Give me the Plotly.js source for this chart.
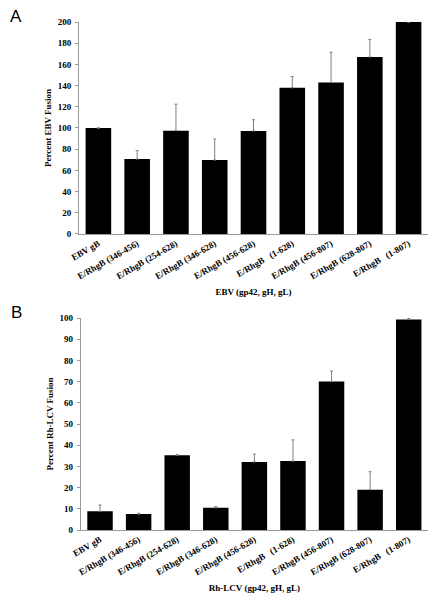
<!DOCTYPE html>
<html>
<head>
<meta charset="utf-8">
<script src="https://cdn.plot.ly/plotly-3.0.1.min.js"></script>
<style>html,body{margin:0;padding:0;background:#fff;}#chart{width:440px;height:599px;}</style>
</head>
<body>
<div id="chart"></div>
<script>
var NB = '\u00a0';
var categories = ['EBV gB', 'E/RhgB (346-456)', 'E/RhgB (254-628)', 'E/RhgB (346-628)', 'E/RhgB (456-628)',
  'E/RhgB' + NB + NB + NB + '(1-628)', 'E/RhgB (456-807)', 'E/RhgB (628-807)', 'E/RhgB' + NB + NB + NB + '(1-807)'];

// Panel A: EBV (gp42, gH, gL)
var ebvValues = [100, 70.7, 97.5, 69.8, 97.2, 138, 143, 167, 200];
var ebvErrTop = [100, 78.6, 122.5, 89.6, 107.8, 148.5, 171.5, 183.5, 200];

// Panel B: Rh-LCV (gp42, gH, gL)
var rhValues = [8.8, 7.5, 35.3, 10.5, 32.1, 32.5, 70, 19, 99.3];
var rhErrTop = [11.8, 7.9, 35.5, 11, 35.8, 42.5, 75, 27.5, 99.8];

var yTicksA = [0, 20, 40, 60, 80, 100, 120, 140, 160, 180, 200];
var yTicksB = [0, 10, 20, 30, 40, 50, 60, 70, 80, 90, 100];

function diff(top, v) { return top.map(function (t, i) { return Math.max(0, t - v[i]); }); }

var serif = 'Liberation Serif, Times New Roman, serif';
var tickFont = {family: serif, size: 9, color: '#000', weight: 'bold'};
var titleFont = {family: serif, size: 9, color: '#000', weight: 'bold'};

var errStyle = {type: 'data', symmetric: false, color: '#808080', thickness: 1, width: 1.5, visible: true};

var traces = [
  {type: 'bar', x: categories, y: ebvValues, xaxis: 'x', yaxis: 'y', marker: {color: '#000'},
   error_y: Object.assign({array: diff(ebvErrTop, ebvValues), arrayminus: ebvValues.map(function(){return 0;})}, errStyle),
   hoverinfo: 'skip'},
  {type: 'bar', x: categories, y: rhValues, xaxis: 'x2', yaxis: 'y2', marker: {color: '#000'},
   error_y: Object.assign({array: diff(rhErrTop, rhValues), arrayminus: rhValues.map(function(){return 0;})}, errStyle),
   hoverinfo: 'skip'}
];

var xCommon = {
  tickangle: -30, tickfont: tickFont, showline: true, linecolor: '#999', linewidth: 1,
  ticks: '', showgrid: false, zeroline: false, automargin: false
};
var yCommon = {
  tickfont: tickFont, showline: true, linecolor: '#999', linewidth: 1, ticks: 'outside',
  ticklen: 3, tickcolor: '#999', showgrid: false, zeroline: false, automargin: false, ticklabelstandoff: 2
};

var layout = {
  width: 440, height: 599,
  margin: {l: 79, r: 12, t: 22, b: 69},
  paper_bgcolor: '#fff', plot_bgcolor: '#fff',
  showlegend: false, bargap: 0.34,
  xaxis: Object.assign({}, xCommon, {domain: [0, 1], anchor: 'y',
    title: {text: 'EBV (gp42, gH, gL)', font: titleFont, standoff: 8}}),
  yaxis: Object.assign({}, yCommon, {domain: [0.5827, 1], anchor: 'x', range: [0, 200],
    tickvals: yTicksA, title: {text: 'Percent EBV Fusion', font: titleFont, standoff: 4}}),
  xaxis2: Object.assign({}, xCommon, {domain: [0.005, 1.005], anchor: 'y2',
    title: {text: 'Rh-LCV (gp42, gH, gL)', font: titleFont, standoff: 8}}),
  yaxis2: Object.assign({}, yCommon, {domain: [0, 0.4173], anchor: 'x2', range: [0, 100],
    tickvals: yTicksB, title: {text: 'Percent Rh-LCV Fusion', font: titleFont, standoff: 4}}),
  annotations: [
    {text: 'A', xref: 'paper', yref: 'paper', x: -0.2, y: 1.0, xanchor: 'left', yanchor: 'middle',
     showarrow: false, font: {family: 'Liberation Sans, Arial, sans-serif', size: 17, color: '#000'},
     xshift: -1, yshift: 6},
    {text: 'B', xref: 'paper', yref: 'paper', x: -0.2, y: 0.4173, xanchor: 'left', yanchor: 'middle',
     showarrow: false, font: {family: 'Liberation Sans, Arial, sans-serif', size: 17, color: '#000'},
     xshift: 0, yshift: 6}
  ]
};

Plotly.newPlot('chart', traces, layout, {displayModeBar: false, staticPlot: true});
</script>
</body>
</html>
